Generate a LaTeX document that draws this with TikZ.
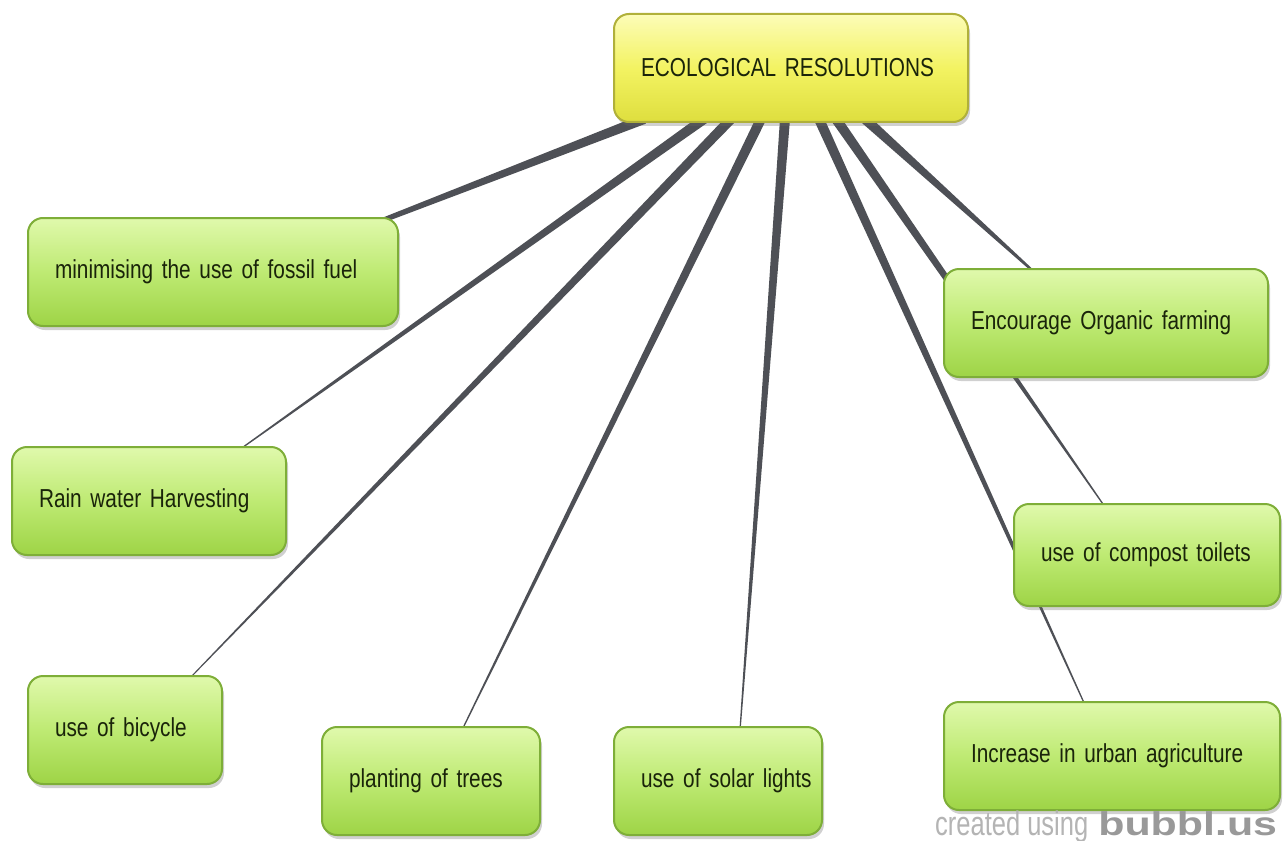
\documentclass[tikz,border=0pt]{standalone}
\usepackage{fontspec}
\newfontfamily\nf{Liberation Sans}[FakeStretch=0.8]
\newfontfamily\wf{Liberation Sans}[FakeStretch=0.75]
\newfontfamily\logofont{Liberation Sans}[FakeStretch=1.3]
\DeclareRobustCommand\nodefnt{\nf\fontsize{26}{30}\selectfont\spaceskip 4.5pt plus 1pt\relax}
\usetikzlibrary{calc,shadows}
\definecolor{gtop}{RGB}{224,249,172}
\definecolor{gmid}{RGB}{190,234,115}
\definecolor{gbot}{RGB}{158,212,70}
\definecolor{gline}{RGB}{126,174,56}
\definecolor{ytop}{RGB}{252,252,184}
\definecolor{ymid}{RGB}{243,243,98}
\definecolor{ybot}{RGB}{222,222,62}
\definecolor{yline}{RGB}{176,176,58}
\definecolor{conn}{RGB}{78,80,86}
\definecolor{txt}{RGB}{26,36,10}
\definecolor{wm}{RGB}{180,180,180}
\pgfdeclarelayer{back}
\pgfdeclarelayer{links}
\pgfsetlayers{back,links,main}
\tikzset{
  idea/.style={rounded corners=15pt, line width=2pt, draw=gline,
    top color=gtop, bottom color=gbot, middle color=gmid,
    minimum height=108pt, inner xsep=27pt, inner ysep=0pt, align=left,
    text=txt, font=\nodefnt,
    drop shadow={shadow xshift=2pt, shadow yshift=-4pt, opacity=0.3, fill=black!60}},
  rootbox/.style={idea, draw=yline, top color=ytop, bottom color=ybot, middle color=ymid},
  taper/.style={to path={($(\tikztostart)!5pt!90:(\tikztotarget)$)
      -- ($(\tikztotarget)!#1!-90:(\tikztostart)$)
      -- ($(\tikztotarget)!#1!90:(\tikztostart)$)
      -- ($(\tikztostart)!5pt!-90:(\tikztotarget)$) -- cycle}},
  link/.style={fill=conn}
}
\begin{document}
\begin{tikzpicture}[x=1pt,y=-1pt]
\useasboundingbox (0,0) rectangle (1284,840);
\begin{pgfonlayer}{back}
  \fill[white] (0,0) rectangle (1284,840);
\end{pgfonlayer}

\node[rootbox, text width=300pt] (root) at (791,68) {\mbox{ECOLOGICAL RESOLUTIONS}};
\node[idea, text width=316pt] (mini) at (213,272) {\mbox{minimising the use of fossil fuel}};
\node[idea, text width=220pt] (rain) at (149,501) {\mbox{Rain water Harvesting}};
\node[idea, text width=140pt] (bike) at (125,730) {\mbox{use of bicycle}};
\node[idea, text width=164pt] (tree) at (431,781) {\mbox{planting of trees}};
\node[idea, text width=154pt] (solar) at (718,781) {\mbox{use of solar lights}};
\node[idea, text width=270pt] (org) at (1106,323) {\mbox{Encourage Organic farming}};
\node[idea, text width=212pt, minimum height=102pt] (comp) at (1147,555) {\mbox{use of compost toilets}};
\node[idea, text width=282pt] (urb) at (1112,756) {\mbox{Increase in urban agriculture}};

\node[anchor=base west, inner sep=0pt, text=wm] (mark) at (935,835)
  {\wf\fontsize{34}{34}\selectfont created using\hspace{10pt}{\logofont\bfseries\fontsize{33}{33}\selectfont\color{wm!85!black}bubbl.us}};

% connector end points
\coordinate (s1) at ([xshift=31pt,yshift=4pt]root.south west);
\coordinate (s2) at ([xshift=91pt,yshift=4pt]root.south west);
\coordinate (s3) at ([xshift=118pt,yshift=4pt]root.south west);
\coordinate (s4) at ([xshift=148pt,yshift=4pt]root.south west);
\coordinate (s5) at ([xshift=172pt,yshift=4pt]root.south west);
\coordinate (s6) at ([xshift=206pt,yshift=4pt]root.south west);
\coordinate (s7) at ([xshift=223pt,yshift=4pt]root.south west);
\coordinate (s8) at ([xshift=252pt,yshift=4pt]root.south west);

\coordinate (e1) at ([xshift=-18pt,yshift=-4pt]mini.north east);
\coordinate (e2) at ([xshift=-48pt,yshift=-4pt]rain.north east);
\coordinate (e3) at ([xshift=-34pt,yshift=-4pt]bike.north east);
\coordinate (e4) at ([xshift=31pt,yshift=-4pt]tree.north);
\coordinate (e5) at ([xshift=22pt,yshift=-4pt]solar.north);
\coordinate (e6) at ([xshift=142pt,yshift=-4pt]urb.north west);
\coordinate (e7) at ([xshift=92pt,yshift=-4pt]comp.north west);
\coordinate (e8) at ([xshift=91pt,yshift=-4pt]org.north west);

\begin{pgfonlayer}{links}
  \fill[link] (s1) to[taper=2.5pt] (e1);
  \fill[link] (s2) to[taper=0.6pt] (e2);
  \fill[link] (s3) to[taper=0.5pt] (e3);
  \fill[link] (s4) to[taper=0.6pt] (e4);
  \fill[link] (s5) to[taper=0.6pt] (e5);
  \fill[link] (s6) to[taper=0.6pt] (e6);
  \fill[link] (s7) to[taper=0.6pt] (e7);
  \fill[link] (s8) to[taper=1.2pt] (e8);
\end{pgfonlayer}
\end{tikzpicture}
\end{document}
